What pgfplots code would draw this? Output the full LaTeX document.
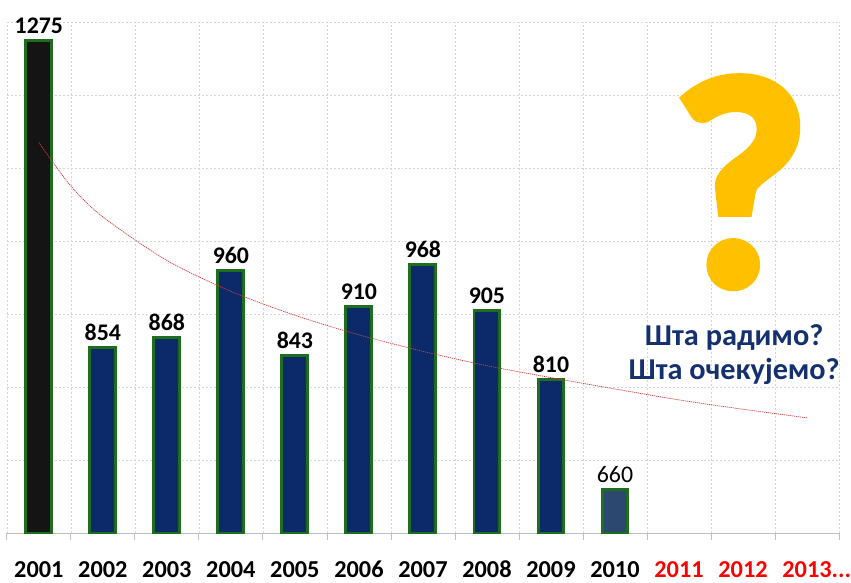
\documentclass[border=0pt]{standalone}
\usepackage{fontspec}
\setmainfont{Carlito}
\newfontfamily\qfont[UprightFont={* Bold}, FakeBold=3]{Carlito}
\usepackage{pgfplots}
\pgfplotsset{compat=1.18}
\definecolor{navy}{HTML}{0C2A6A}
\definecolor{bargreen}{HTML}{1F6E1F}
\definecolor{barblack}{HTML}{141414}
\definecolor{slate}{HTML}{2D4870}
\definecolor{gridgray}{HTML}{D6D6D6}
\definecolor{axisgray}{HTML}{BFBFBF}
\definecolor{qyellow}{HTML}{FFC000}
\definecolor{qblue}{HTML}{14306E}
\definecolor{trendred}{HTML}{D03A3A}
\definecolor{yred}{HTML}{FF0000}
\begin{document}
\begin{tikzpicture}
\begin{axis}[
  scale only axis, width=835bp, height=513bp,
  xmin=0.5, xmax=13.5, ymin=600, ymax=1300,
  clip mode=individual,
  separate axis lines,
  axis x line*=bottom, axis y line*=left,
  x axis line style={axisgray, line width=0.8bp},
  y axis line style={draw=none},
  xtick={1,...,13},
  xticklabels={2001,2002,2003,2004,2005,2006,2007,2008,2009,2010,\textcolor{yred}{2011},\textcolor{yred}{2012},\textcolor{yred}{2013\rlap{...}}},
  minor xtick={0.5,1.5,...,13.5},
  ytick={600,700,...,1300},
  yticklabels={},
  major tick length=0pt,
  minor tick length=7bp,
  tick align=outside,
  minor tick style={axisgray, line width=0.8bp},
  xminorgrids, ymajorgrids,
  grid style={gridgray, line width=0.6bp, dash pattern=on 2bp off 2bp},
  minor grid style={gridgray, line width=0.6bp, dash pattern=on 2bp off 2bp},
  xticklabel style={font=\bfseries\fontsize{24.5}{24.5}\selectfont, anchor=base, inner sep=0pt, yshift=-44bp},
  /pgf/number format/assume math mode=true,
  /pgf/number format/1000 sep={},
]
\addplot[ybar, bar width=26bp, bar shift=0pt, fill=barblack, draw=bargreen, line width=3bp,
  nodes near coords, nodes near coords style={font=\bfseries\fontsize{24}{24}\selectfont, black, yshift=2bp}]
  coordinates {(1,1275)};
\addplot[ybar, bar width=26bp, bar shift=0pt, fill=navy, draw=bargreen, line width=3bp,
  nodes near coords, nodes near coords style={font=\bfseries\fontsize{24}{24}\selectfont, black, yshift=2bp}]
  coordinates {(2,854) (3,868) (4,960) (5,843) (6,910) (7,968) (8,905) (9,810)};
\addplot[ybar, bar width=26bp, bar shift=0pt, fill=slate, draw=bargreen, line width=3bp,
  nodes near coords, nodes near coords style={font=\fontsize{24}{24}\selectfont, black, yshift=2bp}]
  coordinates {(10,660)};
\addplot[trendred, line width=0.7bp, dash pattern=on 1.2bp off 0.8bp, smooth, no marks]
  coordinates {(1,1135) (1.5,1075.4) (2,1033.1) (3,973.5) (4,931.2) (5,898.4) (6,871.6) (7,849.0) (8,829.3) (9,813.0) (10,797.5) (11,782.5) (12,769.7) (13,758.0)};
\node[text=qyellow, font=\qfont\fontsize{302}{302}\selectfont, anchor=base, inner sep=0pt] at (rel axis cs:0.881,0.486) {?};
\node[text=qblue, font=\bfseries\fontsize{30.5}{30.5}\selectfont, anchor=base, inner sep=0pt] at (rel axis cs:0.874,0.368) {Шта радимо?};
\node[text=qblue, font=\bfseries\fontsize{30.5}{30.5}\selectfont, anchor=base, inner sep=0pt] at (rel axis cs:0.874,0.300) {Шта очекујемо?};
\end{axis}
\path ([shift={(-4bp,-49bp)}]current axis.south west) rectangle ([shift={(12bp,22bp)}]current axis.north east);
\end{tikzpicture}
\end{document}
